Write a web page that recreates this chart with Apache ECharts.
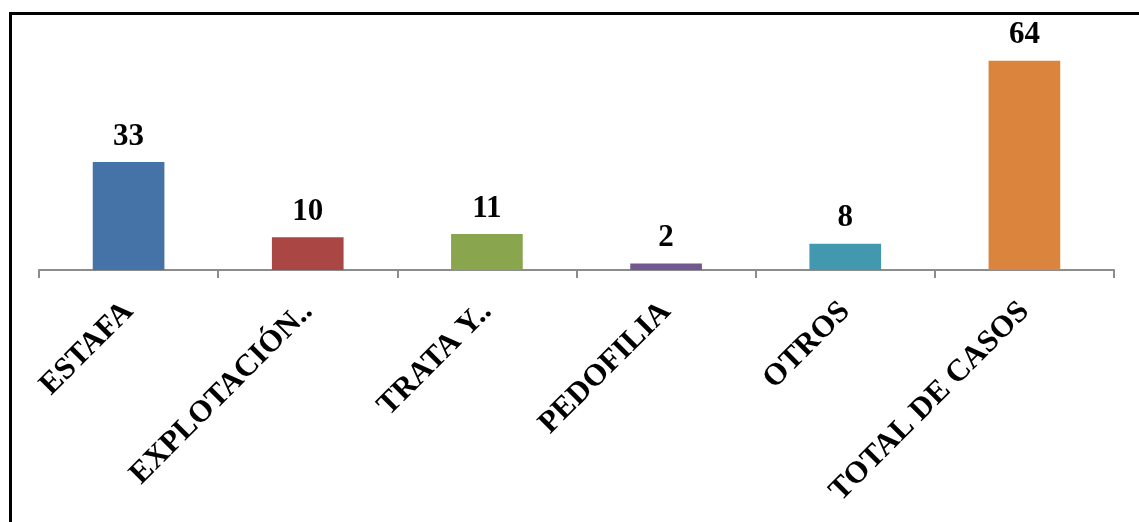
<!DOCTYPE html>
<html><head><meta charset="utf-8">
<script src="https://cdn.jsdelivr.net/npm/echarts@6/dist/echarts.min.js"></script>
<style>
html,body{margin:0;padding:0;background:#fff;overflow:hidden;}
#frame{position:absolute;left:9px;top:12px;width:1200px;height:600px;border:3px solid #000;box-sizing:border-box;}
#c{position:absolute;left:0;top:0;width:1139px;height:522px;}
</style></head>
<body>
<div id="frame"></div>
<div id="c"></div>
<script>
const categories = ["ESTAFA", "EXPLOTACIÓN..", "TRATA Y..", "PEDOFILIA", "OTROS", "TOTAL DE CASOS"];
const values = [33, 10, 11, 2, 8, 64];
const colors = ["#4572A7", "#AA4643", "#89A54E", "#71588F", "#4198AF", "#DB843D"];

const chart = echarts.init(document.getElementById('c'));
chart.setOption({
  animation: false,
  grid: {left: 39, right: 25, top: 41, bottom: 252, containLabel: false},
  xAxis: {
    type: 'category',
    data: categories,
    axisLine: {lineStyle: {color: '#8c8c8c', width: 2}},
    axisTick: {show: true, length: 8, lineStyle: {color: '#8c8c8c', width: 2}},
    axisLabel: {
      rotate: 45, margin: 37, interval: 0,
      fontFamily: '"Liberation Serif", "Times New Roman", serif',
      fontWeight: 'bold', fontSize: 31, color: '#000'
    }
  },
  yAxis: {
    type: 'value', min: 0, max: 70, interval: 10,
    show: false, splitLine: {show: false}
  },
  series: [{
    type: 'bar',
    barWidth: '40%',
    data: values.map((v, i) => ({value: v, itemStyle: {color: colors[i]}})),
    label: {
      show: true, position: 'top', distance: 10,
      fontFamily: '"Liberation Serif", "Times New Roman", serif',
      fontWeight: 'bold', fontSize: 31, color: '#000'
    }
  }]
});
</script>
</body></html>
